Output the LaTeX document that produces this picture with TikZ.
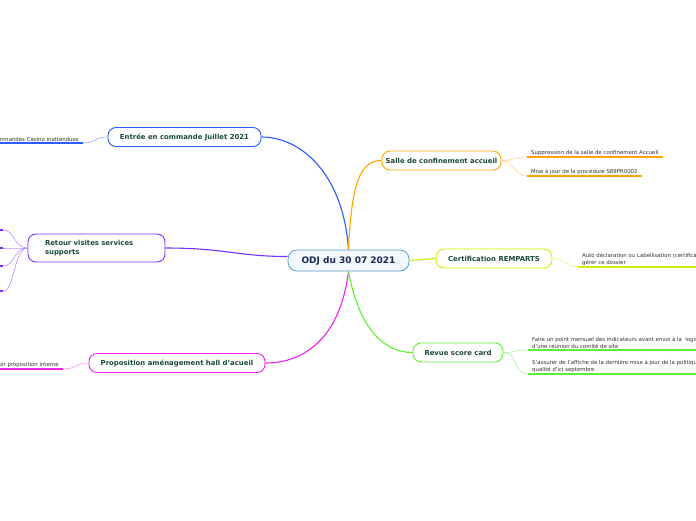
\documentclass[tikz,border=0pt]{standalone}
\usepackage{fontspec}
\setmainfont{DejaVu Sans}
\usetikzlibrary{positioning}
\definecolor{odjblue}{HTML}{5C9BD8}
\definecolor{odjfill}{HTML}{F1F7FD}
\definecolor{odjtxt}{HTML}{1B2A50}
\definecolor{topictxt}{HTML}{1A4A3C}
\definecolor{leaftxt}{HTML}{333333}
\definecolor{entblue}{HTML}{2A5CFF}
\definecolor{entlight}{HTML}{93ACFF}
\definecolor{retpurple}{HTML}{7B2FFF}
\definecolor{retlight}{HTML}{B690FF}
\definecolor{propmag}{HTML}{EE22EE}
\definecolor{proplight}{HTML}{F594F5}
\definecolor{salleor}{HTML}{FFA500}
\definecolor{sallelight}{HTML}{FFD085}
\definecolor{certyel}{HTML}{D4EE00}
\definecolor{certlight}{HTML}{E8F570}
\definecolor{revgreen}{HTML}{5FEF2F}
\definecolor{revlight}{HTML}{ABF595}

\begin{document}
\begin{tikzpicture}[x=1pt,y=-1pt,
  hub/.style={draw=odjblue,fill=odjfill,line width=0.8pt,rounded corners=9pt,text=odjtxt,font=\bfseries\fontsize{9}{10}\selectfont,minimum width=121pt,minimum height=21pt},
  topic/.style={draw,fill=white,line width=0.9pt,rounded corners=8pt,text=topictxt,font=\bfseries\fontsize{6.9}{8.2}\selectfont,minimum height=19pt,inner sep=2pt},
  leaf/.style={text=leaftxt,font=\fontsize{5.4}{6.4}\selectfont,inner xsep=4pt,inner ysep=1.6pt,align=left},
  branch/.style={line width=1.1pt},
  twig/.style={line width=0.6pt},
  uline/.style={line width=1.4pt}]
\useasboundingbox (0,0) rectangle (696,520);
\clip (0,0) rectangle (696,520);
\fill[white] (0,0) rectangle (696,520);

% centre
\node[hub] (odj) at (348.5,260.5) {ODJ du 30 07 2021};

% topics
\node[topic,draw=entblue,minimum width=153pt] (entree) at (184.5,137) {Entrée en commande Juillet 2021};
\node[topic,draw=retpurple,minimum height=28pt,inner xsep=17pt,text width=103pt,align=left] (retour) at (96.5,248) {Retour visites services\\supports};
\node[topic,draw=propmag,minimum width=176pt] (hall) at (177,363) {Proposition aménagement hall d'acueil};
\node[topic,draw=salleor,minimum width=119pt] (salle) at (441.5,160.5) {Salle de confinement accueil};
\node[topic,draw=certyel,minimum width=116pt] (cert) at (494,258.5) {Certification REMPARTS};
\node[topic,draw=revgreen,minimum width=90pt] (revue) at (458,352.5) {Revue score card};

% leaves
\node[leaf,anchor=south east] (casino) at (83,143) {Commandes Casino inattendues};
\node[leaf,anchor=south east] (interne) at (63,369) {Voir proposition interne};
\node[leaf,anchor=south west] (supp) at (527,157) {Suppression de la salle de confinement Accueil};
\node[leaf,anchor=south west] (maj) at (527,176) {Mise à jour de la procédure S89PR0002};
\node[leaf,anchor=south west] (auto) at (578,267) {Auto déclaration ou Labellisation (certification)\\gérer ce dossier};
\node[leaf,anchor=south west] (point) at (528,350) {Faire un point mensuel des indicateurs avant envoi à la \ logistique lors\\d'une réunion du comité de site};
\node[leaf,anchor=south west] (affiche) at (528,374) {S'assurer de l'affiche de la dernière mise à jour de la politique\\qualité d'ici septembre};
\coordinate (r1) at (3,230);
\coordinate (r2) at (3,248);
\coordinate (r3) at (3,266);
\coordinate (r4) at (3,291);

% underlines
\foreach \n/\c in {casino/entblue,interne/propmag,supp/salleor,maj/salleor,auto/certyel,point/revgreen,affiche/revgreen}
  \draw[uline,\c] (\n.south west) -- (\n.south east);
\foreach \n in {r1,r2,r3,r4}
  \draw[uline,retpurple] (\n) -- ++(-20,0);

% branches
\draw[branch,entblue] (odj.north) .. controls +(-5,-75) and +(40,0) .. (entree.east);
\draw[branch,retpurple] ([yshift=4pt]odj.west) .. controls +(-50,0) and +(60,0) .. (retour.east);
\draw[branch,propmag] (odj.south) .. controls +(-8,65) and +(40,0) .. (hall.east);
\draw[branch,salleor] (odj.north) .. controls +(3,-65) and +(-22,0) .. (salle.west);
\draw[branch,certyel] (odj.east) -- (cert.west);
\draw[branch,revgreen] (odj.south) .. controls +(10,55) and +(-30,0) .. (revue.west);

% twigs
\draw[twig,entlight] (entree.west) .. controls +(-14,0) and +(14,0) .. (casino.south east);
\draw[twig,proplight] (hall.west) .. controls +(-14,0) and +(14,0) .. (interne.south east);
\foreach \n in {supp,maj}
  \draw[twig,sallelight] (salle.east) .. controls +(14,0) and +(-14,0) .. (\n.south west);
\draw[twig,certlight] (cert.east) .. controls +(14,0) and +(-14,0) .. (auto.south west);
\foreach \n in {point,affiche}
  \draw[twig,revlight] (revue.east) .. controls +(14,0) and +(-14,0) .. (\n.south west);
\foreach \n in {r1,r2,r3,r4}
  \draw[twig,retlight] (retour.west) .. controls +(-14,0) and +(12,0) .. (\n);
\end{tikzpicture}
\end{document}
